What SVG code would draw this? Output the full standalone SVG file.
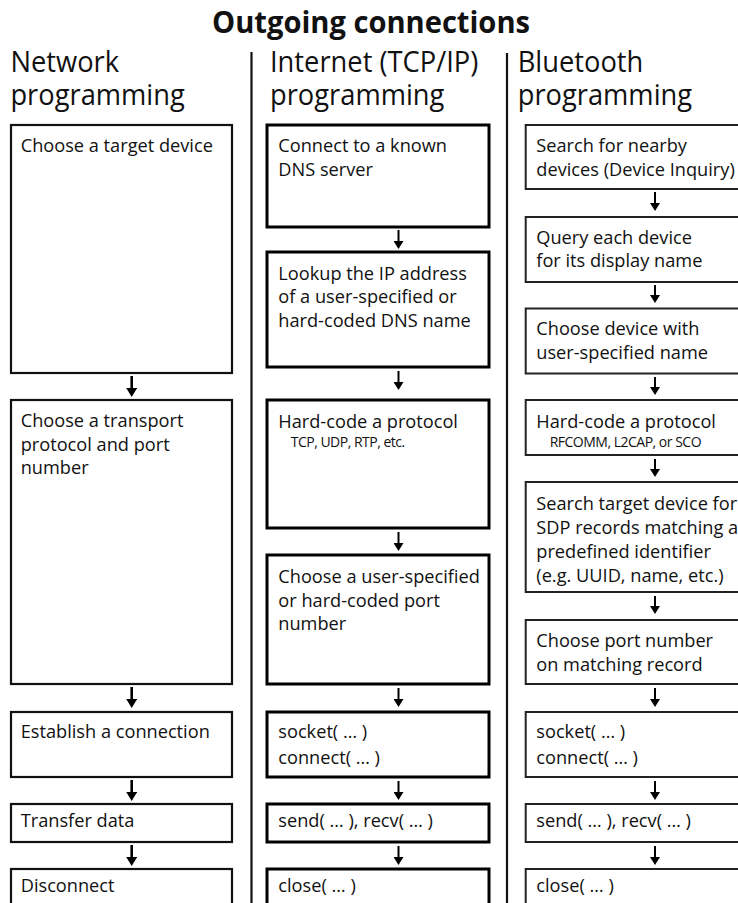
<svg xmlns="http://www.w3.org/2000/svg" width="738" height="903" viewBox="0 0 738 903">
<style>
.bg{fill:#ffffff}
.t{font-family:"Open Sans","Noto Sans","Liberation Sans",sans-serif;font-size:18.2px;fill:#111}
.s{font-family:"Open Sans","Noto Sans","Liberation Sans",sans-serif;font-size:14px;fill:#111;letter-spacing:-0.5px}
.h{font-family:"Open Sans","Noto Sans","Liberation Sans",sans-serif;font-size:30px;fill:#111}
.title{font-family:"Open Sans","Noto Sans","Liberation Sans",sans-serif;font-size:30px;font-weight:bold;fill:#111}
.b1{fill:#fff;stroke:#111;stroke-width:2.2}
.b2{fill:#fff;stroke:#000;stroke-width:3}
.b3{fill:#fff;stroke:#222;stroke-width:2}
.sep{stroke:#111;stroke-width:2.2}
.a1{stroke:#000;stroke-width:2.6;marker-end:url(#h1)}
.a2{stroke:#000;stroke-width:2;marker-end:url(#h2)}
</style>
<defs>
<marker id="h1" markerUnits="userSpaceOnUse" markerWidth="11" markerHeight="9" viewBox="0 0 11 9" refX="5.5" refY="3">
<path d="M0,0 L11,0 L5.5,9 z" fill="#000"/>
</marker>
<marker id="h2" markerUnits="userSpaceOnUse" markerWidth="10" markerHeight="8" viewBox="0 0 10 8" refX="5" refY="3">
<path d="M0,0 L10,0 L5,8 z" fill="#000"/>
</marker>
</defs>
<rect class="bg" x="0" y="0" width="738" height="903"/>

<g id="title">
<text class="title" x="371" y="33" text-anchor="middle" textLength="318" lengthAdjust="spacingAndGlyphs">Outgoing connections</text>
</g>

<g id="headers">
<text class="h" transform="translate(10.4 72) scale(0.91 1)">Network</text>
<text class="h" transform="translate(10.4 104.5) scale(0.91 1)">programming</text>
<text class="h" transform="translate(270 72) scale(0.91 1)">Internet (TCP/IP)</text>
<text class="h" transform="translate(270 104.5) scale(0.91 1)">programming</text>
<text class="h" transform="translate(517.7 72) scale(0.91 1)">Bluetooth</text>
<text class="h" transform="translate(517.7 104.5) scale(0.91 1)">programming</text>
</g>

<g id="separators">
<line class="sep" x1="251.5" y1="52" x2="251.5" y2="903"/>
<line class="sep" x1="507" y1="53" x2="507" y2="903"/>
</g>

<g id="net-1"><rect class="b1" x="11" y="125" width="221" height="248"/>
<text class="t" x="20.7" y="152">Choose a target device</text></g>
<g id="net-2"><rect class="b1" x="11" y="400" width="221" height="284"/>
<text class="t" x="20.7" y="427">Choose a transport</text>
<text class="t" x="20.7" y="450.7">protocol and port</text>
<text class="t" x="20.7" y="474.4">number</text></g>
<g id="net-3"><rect class="b1" x="11" y="712" width="221" height="65"/>
<text class="t" x="20.7" y="738">Establish a connection</text></g>
<g id="net-4"><rect class="b1" x="11" y="804" width="221" height="38"/>
<text class="t" x="20.7" y="827">Transfer data</text></g>
<g id="net-5"><rect class="b1" x="11" y="869" width="221" height="60"/>
<text class="t" x="20.7" y="892">Disconnect</text></g>

<g id="inet-1"><rect class="b2" x="267" y="125" width="222" height="102"/>
<text class="t" x="278.3" y="152">Connect to a known</text>
<text class="t" x="278.3" y="175.7">DNS server</text></g>
<g id="inet-2"><rect class="b2" x="267" y="252" width="222" height="115"/>
<text class="t" x="278.3" y="279.5">Lookup the IP address</text>
<text class="t" x="278.3" y="303.2">of a user-specified or</text>
<text class="t" x="278.3" y="326.9">hard-coded DNS name</text></g>
<g id="inet-3"><rect class="b2" x="267" y="400" width="222" height="128"/>
<text class="t" x="278.3" y="428">Hard-code a protocol</text>
<text class="s" x="290.7" y="446.5">TCP, UDP, RTP, etc.</text></g>
<g id="inet-4"><rect class="b2" x="267" y="555" width="222" height="129"/>
<text class="t" x="278.3" y="583">Choose a user-specified</text>
<text class="t" x="278.3" y="606.7">or hard-coded port</text>
<text class="t" x="278.3" y="630.4">number</text></g>
<g id="inet-5"><rect class="b2" x="267" y="712" width="222" height="65"/>
<text class="t" x="278.3" y="738">socket( … )</text>
<text class="t" x="278.3" y="764">connect( … )</text></g>
<g id="inet-6"><rect class="b2" x="267" y="804" width="222" height="38"/>
<text class="t" x="278.3" y="827">send( … ), recv( … )</text></g>
<g id="inet-7"><rect class="b2" x="267" y="869" width="222" height="60"/>
<text class="t" x="278.3" y="892">close( … )</text></g>

<g id="bt-1"><rect class="b3" x="525.7" y="125" width="220" height="64"/>
<text class="t" x="536.3" y="152">Search for nearby</text>
<text class="t" x="536.3" y="176">devices (Device Inquiry)</text></g>
<g id="bt-2"><rect class="b3" x="525.7" y="217" width="220" height="65"/>
<text class="t" x="536.3" y="243.5">Query each device</text>
<text class="t" x="536.3" y="267.3">for its display name</text></g>
<g id="bt-3"><rect class="b3" x="525.7" y="308.5" width="220" height="65"/>
<text class="t" x="536.3" y="335">Choose device with</text>
<text class="t" x="536.3" y="359">user-specified name</text></g>
<g id="bt-4"><rect class="b3" x="525.7" y="400" width="220" height="55"/>
<text class="t" x="536.3" y="428">Hard-code a protocol</text>
<text class="s" x="549.7" y="446.5">RFCOMM, L2CAP, or SCO</text></g>
<g id="bt-5"><rect class="b3" x="525.7" y="482" width="220" height="110"/>
<text class="t" x="536.3" y="510">Search target device for</text>
<text class="t" x="536.3" y="534">SDP records matching a</text>
<text class="t" x="536.3" y="558">predefined identifier</text>
<text class="t" x="536.3" y="582">(e.g. UUID, name, etc.)</text></g>
<g id="bt-6"><rect class="b3" x="525.7" y="620" width="220" height="64"/>
<text class="t" x="536.3" y="647">Choose port number</text>
<text class="t" x="536.3" y="670.5">on matching record</text></g>
<g id="bt-7"><rect class="b3" x="525.7" y="712" width="220" height="65"/>
<text class="t" x="536.3" y="738">socket( … )</text>
<text class="t" x="536.3" y="764">connect( … )</text></g>
<g id="bt-8"><rect class="b3" x="525.7" y="804" width="220" height="38"/>
<text class="t" x="536.3" y="827">send( … ), recv( … )</text></g>
<g id="bt-9"><rect class="b3" x="525.7" y="869" width="220" height="60"/>
<text class="t" x="536.3" y="892">close( … )</text></g>

<g id="connectors">
<line class="a1" x1="131.7" y1="376" x2="131.7" y2="391"/>
<line class="a1" x1="131.7" y1="687" x2="131.7" y2="702"/>
<line class="a1" x1="131.7" y1="780" x2="131.7" y2="795"/>
<line class="a1" x1="131.7" y1="845" x2="131.7" y2="860"/>

<line class="a2" x1="398.5" y1="230" x2="398.5" y2="244"/>
<line class="a2" x1="398.5" y1="371" x2="398.5" y2="385"/>
<line class="a2" x1="398.5" y1="532" x2="398.5" y2="546"/>
<line class="a2" x1="398.5" y1="688" x2="398.5" y2="702"/>
<line class="a2" x1="398.5" y1="781" x2="398.5" y2="795"/>
<line class="a2" x1="398.5" y1="846" x2="398.5" y2="860"/>

<line class="a2" x1="655" y1="192" x2="655" y2="206"/>
<line class="a2" x1="655" y1="285" x2="655" y2="298"/>
<line class="a2" x1="655" y1="377" x2="655" y2="390"/>
<line class="a2" x1="655" y1="459" x2="655" y2="472"/>
<line class="a2" x1="655" y1="596" x2="655" y2="609"/>
<line class="a2" x1="655" y1="688" x2="655" y2="702"/>
<line class="a2" x1="655" y1="781" x2="655" y2="795"/>
<line class="a2" x1="655" y1="846" x2="655" y2="860"/>
</g>
</svg>
